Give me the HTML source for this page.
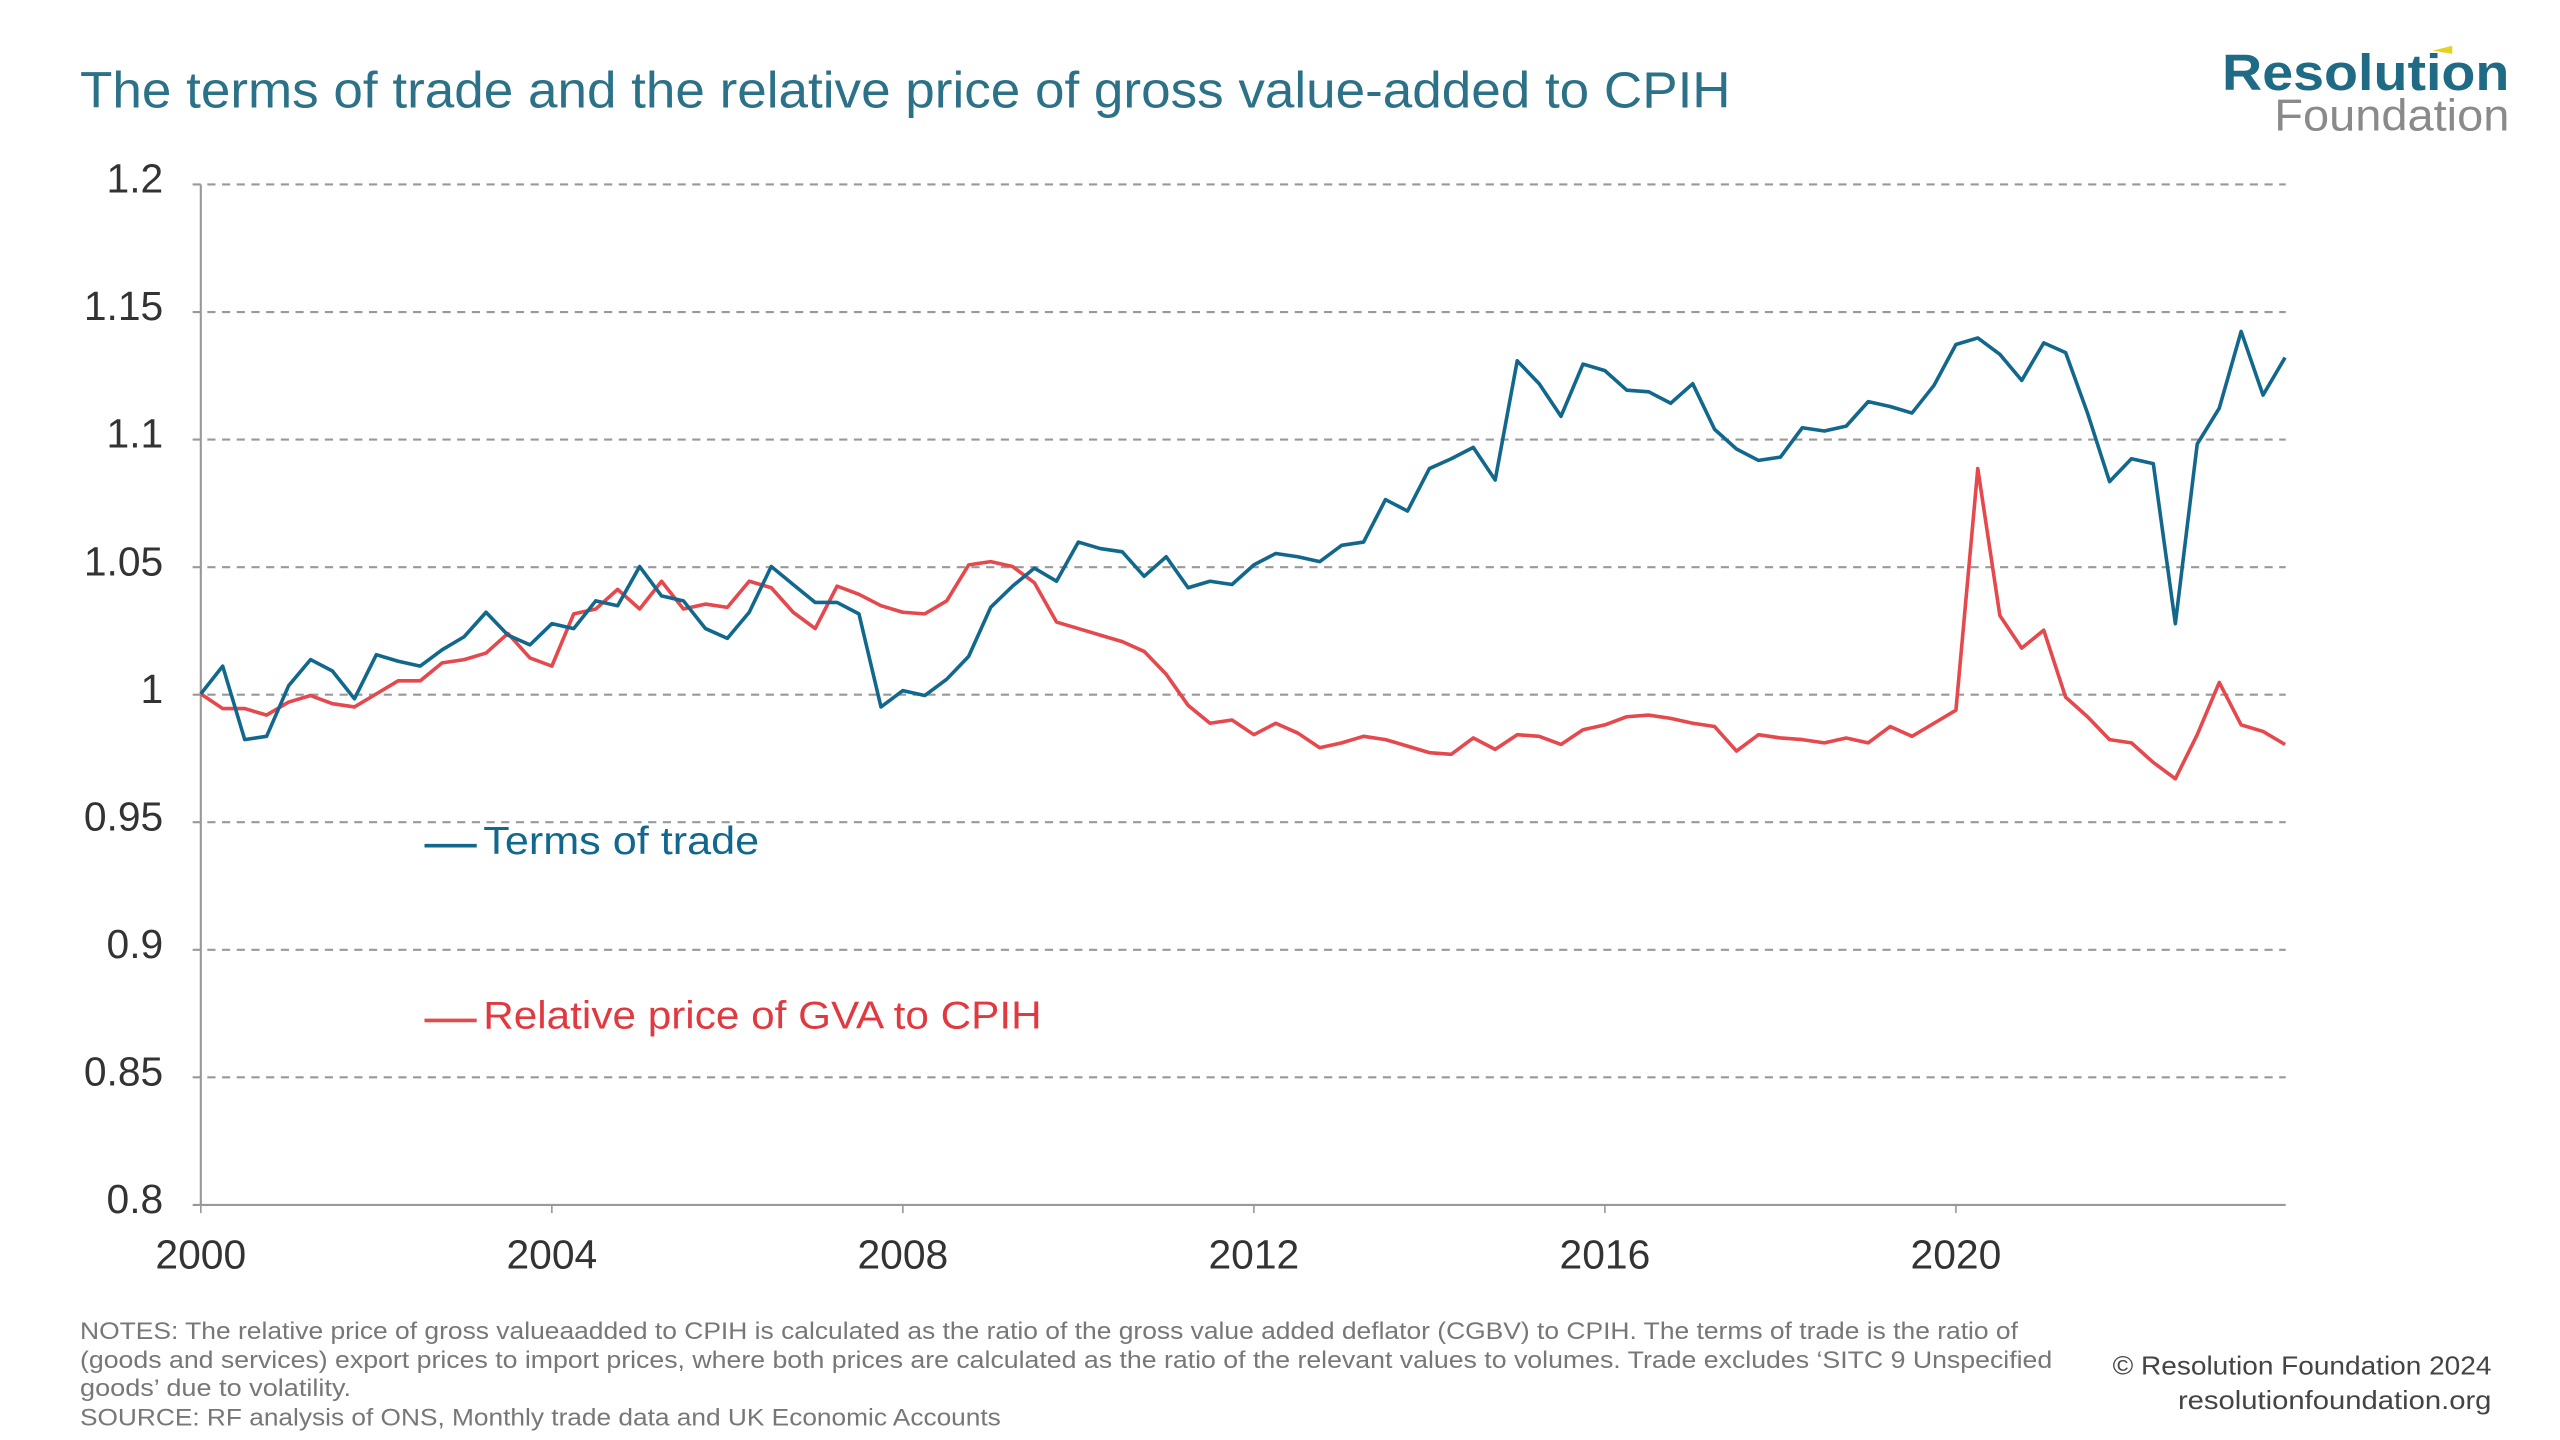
<!DOCTYPE html>
<html><head><meta charset="utf-8"><style>
html,body{margin:0;padding:0;background:#fff}
svg{display:block}
text{font-family:"Liberation Sans",sans-serif}
</style></head><body>
<svg id="s" width="2560" height="1440" viewBox="0 0 1568 882" xmlns="http://www.w3.org/2000/svg">
<text x="49" y="66" font-size="31" fill="#2b7187" textLength="1011" lengthAdjust="spacingAndGlyphs">The terms of trade and the relative price of gross value-added to CPIH</text>
<text x="1537" y="55" font-size="31" font-weight="bold" fill="#1f6a85" text-anchor="end" textLength="176" lengthAdjust="spacingAndGlyphs">Resolution</text>
<polygon points="1490,31 1502,28 1502,33" fill="#e6d21e"/>
<text x="1537" y="80" font-size="27" fill="#8a8a8a" text-anchor="end" textLength="144" lengthAdjust="spacingAndGlyphs">Foundation</text>
<g id="grid" stroke="#999" stroke-width="1.3" stroke-dasharray="5,4"></g>
<line x1="123" y1="113" x2="123" y2="738" stroke="#999" stroke-width="1.3"/>
<line x1="118" y1="738" x2="1400" y2="738" stroke="#999" stroke-width="1.3"/>
<g id="lab" font-size="25" fill="#333"></g>
<polyline id="red" fill="none" stroke="#e5484d" stroke-width="2.2" stroke-linejoin="round"/>
<polyline id="blue" fill="none" stroke="#11688c" stroke-width="2.2" stroke-linejoin="round"/>
<line x1="260" y1="518" x2="292" y2="518" stroke="#11688c" stroke-width="2.2"/>
<text x="296" y="523" font-size="24" fill="#11688c" textLength="169" lengthAdjust="spacingAndGlyphs">Terms of trade</text>
<line x1="260" y1="625" x2="292" y2="625" stroke="#e5484d" stroke-width="2.2"/>
<text x="296" y="630" font-size="24" fill="#e03a40" textLength="342" lengthAdjust="spacingAndGlyphs">Relative price of GVA to CPIH</text>
<g font-size="15" fill="#777">
<text x="49" y="820" textLength="1187" lengthAdjust="spacingAndGlyphs">NOTES: The relative price of gross valueaadded to CPIH is calculated as the ratio of the gross value added deflator (CGBV) to CPIH. The terms of trade is the ratio of</text>
<text x="49" y="838" textLength="1208" lengthAdjust="spacingAndGlyphs">(goods and services) export prices to import prices, where both prices are calculated as the ratio of the relevant values to volumes. Trade excludes ‘SITC 9 Unspecified</text>
<text x="49" y="855" textLength="166" lengthAdjust="spacingAndGlyphs">goods’ due to volatility.</text>
<text x="49" y="873" textLength="564" lengthAdjust="spacingAndGlyphs">SOURCE: RF analysis of ONS, Monthly trade data and UK Economic Accounts</text>
</g>
<g font-size="16" fill="#444" text-anchor="end">
<text x="1526" y="842" textLength="232" lengthAdjust="spacingAndGlyphs">© Resolution Foundation 2024</text>
<text x="1526" y="863" textLength="192" lengthAdjust="spacingAndGlyphs">resolutionfoundation.org</text>
</g>
</svg>
<script>
var NS="http://www.w3.org/2000/svg";
var g=document.getElementById("grid"),lab=document.getElementById("lab");
var yl=["1.2","1.15","1.1","1.05","1","0.95","0.9","0.85","0.8"];
for(var i=0;i<9;i++){var y=113+i*78.125;
 if(i<8){var l=document.createElementNS(NS,"line");l.setAttribute("x1",118);l.setAttribute("x2",1400);l.setAttribute("y1",y);l.setAttribute("y2",y);g.appendChild(l);}
 var t=document.createElementNS(NS,"text");t.setAttribute("x",100);t.setAttribute("y",y+5);t.setAttribute("text-anchor","end");t.textContent=yl[i];lab.appendChild(t);}
for(var k=0;k<6;k++){var x=123+k*4*53.75;
 var t=document.createElementNS(NS,"text");t.setAttribute("x",x);t.setAttribute("y",777);t.setAttribute("text-anchor","middle");t.textContent=2000+4*k;lab.appendChild(t);
 var l=document.createElementNS(NS,"line");l.setAttribute("x1",x);l.setAttribute("x2",x);l.setAttribute("y1",738);l.setAttribute("y2",743);l.setAttribute("stroke","#999");lab.appendChild(l);}
var B=[425,408,453,451,420,404,411,428,401,405,408,398,390,375,389,395,382,385,368,371,347,365,368,385,391,375,347,358,369,369,376,433,423,426,416,402,372,359,348,356,332,336,338,353,341,360,356,358,346,339,341,344,334,332,306,313,287,281,274,294,221,235,255,223,227,239,240,247,235,263,275,282,280,262,264,261,246,249,253,236,211,207,217,233,210,216,253,295,281,284,382,272,250,203,242,219];
var R=[425,434,434,438,430,426,431,433,425,417,417,406,404,400,388,403,408,376,373,361,373,356,373,370,372,356,360,375,385,359,364,371,375,376,368,346,344,347,357,381,385,389,393,399,413,432,443,441,450,443,449,458,455,451,453,457,461,462,452,459,450,451,456,447,444,439,438,440,443,445,460,450,452,453,455,452,455,445,451,443,435,287,377,397,386,427,439,453,455,467,477,450,418,444,448,456];
function pts(a){return a.map(function(v,i){return (123+i*13.4375).toFixed(1)+","+v}).join(" ");}
document.getElementById("blue").setAttribute("points",pts(B));
document.getElementById("red").setAttribute("points",pts(R));
</script>
</body></html>
